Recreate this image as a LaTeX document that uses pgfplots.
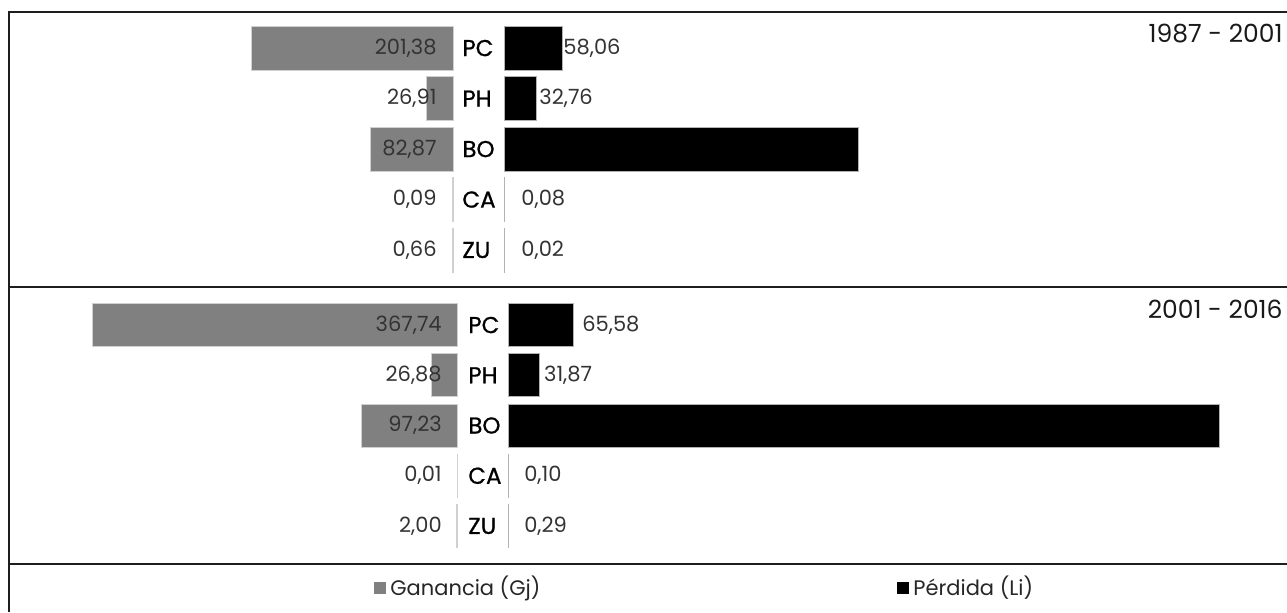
\documentclass[border=0pt]{standalone}
\usepackage{fontspec}
\setmainfont{Poppins}
\newfontfamily\catfont{Poppins}[FakeBold=0.8]
\usepackage{pgfplots}
\pgfplotsset{compat=1.18}
\definecolor{gain}{HTML}{808080}
\definecolor{edge}{HTML}{D0D0D0}
\definecolor{val}{HTML}{333333}
\definecolor{frame}{HTML}{1E1E1E}
\newcommand\vfont{\fontsize{10.5}{12}\selectfont}
\newcommand\cfont{\catfont\fontsize{11.5}{13}\selectfont}
\newcommand\lfont{\fontsize{10.5}{12}\selectfont}
\newcommand\yfont{\fontsize{12.5}{14}\selectfont}
\pgfplotsset{
  half/.style={hide axis, scale only axis, clip=false, xbar, bar shift=0pt,
    ymin=-0.5, ymax=4.5, y dir=reverse, xmin=0},
  gainbar/.style={fill=gain, draw=edge, line width=0.5pt},
  lossbar/.style={fill=black, draw=gray!60, line width=0.5pt},
}
\tikzset{
  gl/.style={anchor=east, text=val, font=\vfont, inner sep=0pt},
  ll/.style={anchor=west, text=val, font=\vfont, inner sep=0pt},
  cl/.style={anchor=west, text=black, font=\cfont, inner sep=0pt},
}

\begin{document}
\begin{tikzpicture}
\path[use as bounding box] (0,0) rectangle (643.5pt,-306pt);

% 1987 - 2001, gains
\begin{axis}[half, at={(226.5pt,-11.4pt)}, anchor=north east,
  width=221.5pt, height=126.25pt, x dir=reverse, xmax=443, bar width=22pt]
\addplot[gainbar] coordinates {(201.38,0) (26.91,1) (82.87,2) (0.09,3) (0.66,4)};
\node[gl] at (axis cs:16,0) {201,38};
\node[gl] at (axis cs:16,1) {26,91};
\node[gl] at (axis cs:16,2) {82,87};
\node[gl] at (axis cs:16,3) {0,09};
\node[gl] at (axis cs:16,4) {0,66};
\node[cl] at (axis cs:-9,0) {PC};
\node[cl] at (axis cs:-9,1) {PH};
\node[cl] at (axis cs:-9,2) {BO};
\node[cl] at (axis cs:-9,3) {CA};
\node[cl] at (axis cs:-9,4) {ZU};
\end{axis}
% 1987 - 2001, losses
\begin{axis}[half, at={(252pt,-11.4pt)}, anchor=north west,
  width=391.5pt, height=126.25pt, xmax=783, bar width=22pt]
\addplot[lossbar] coordinates {(58.06,0) (32.76,1) (354,2) (0.08,3) (0.02,4)};
\node[ll] at (axis cs:59,0) {58,06};
\node[ll] at (axis cs:35,1) {32,76};
\node[ll] at (axis cs:17,3) {0,08};
\node[ll] at (axis cs:17,4) {0,02};
\end{axis}

% 2001 - 2016, gains
\begin{axis}[half, at={(229pt,-149.95pt)}, anchor=north east,
  width=224pt, height=125.6pt, x dir=reverse, xmax=451, bar width=21.5pt]
\addplot[gainbar] coordinates {(367.74,0) (26.88,1) (97.23,2) (0.01,3) (2.00,4)};
\node[gl] at (axis cs:16,0) {367,74};
\node[gl] at (axis cs:16,1) {26,88};
\node[gl] at (axis cs:16,2) {97,23};
\node[gl] at (axis cs:16,3) {0,01};
\node[gl] at (axis cs:16,4) {2,00};
\node[cl] at (axis cs:-10,0) {PC};
\node[cl] at (axis cs:-10,1) {PH};
\node[cl] at (axis cs:-10,2) {BO};
\node[cl] at (axis cs:-10,3) {CA};
\node[cl] at (axis cs:-10,4) {ZU};
\end{axis}
% 2001 - 2016, losses
\begin{axis}[half, at={(254pt,-149.95pt)}, anchor=north west,
  width=389.5pt, height=125.6pt, xmax=784.5, bar width=21.5pt]
\addplot[lossbar] coordinates {(65.58,0) (31.87,1) (717,2) (0.10,3) (0.29,4)};
\node[ll] at (axis cs:74.5,0) {65,58};
\node[ll] at (axis cs:36,1) {31,87};
\node[ll] at (axis cs:16,3) {0,10};
\node[ll] at (axis cs:16,4) {0,29};
\end{axis}

% frame
\draw[frame, line width=1pt] (4.5pt,-306pt) -- (4.5pt,-6.2pt) -- (643.5pt,-6.2pt);
\draw[frame, line width=1pt] (4.5pt,-143.5pt) -- (643.5pt,-143.5pt);
\draw[frame, line width=1pt] (4.5pt,-282pt) -- (643.5pt,-282pt);

\node[anchor=east, font=\yfont, inner sep=0pt, text=black!90] at (641.5pt,-17pt) {1987 - 2001};
\node[anchor=east, font=\yfont, inner sep=0pt, text=black!90] at (641.5pt,-154.5pt) {2001 - 2016};

% legend
\fill[gain] (187pt,-297pt) rectangle (193pt,-291pt);
\node[anchor=west, font=\lfont, text=black!85, inner sep=0pt] at (195pt,-294pt) {Ganancia (Gj)};
\fill[black] (448.5pt,-297pt) rectangle (454.5pt,-291pt);
\node[anchor=west, font=\lfont, text=black!85, inner sep=0pt] at (456.5pt,-294pt) {Pérdida (Li)};
\end{tikzpicture}
\end{document}
